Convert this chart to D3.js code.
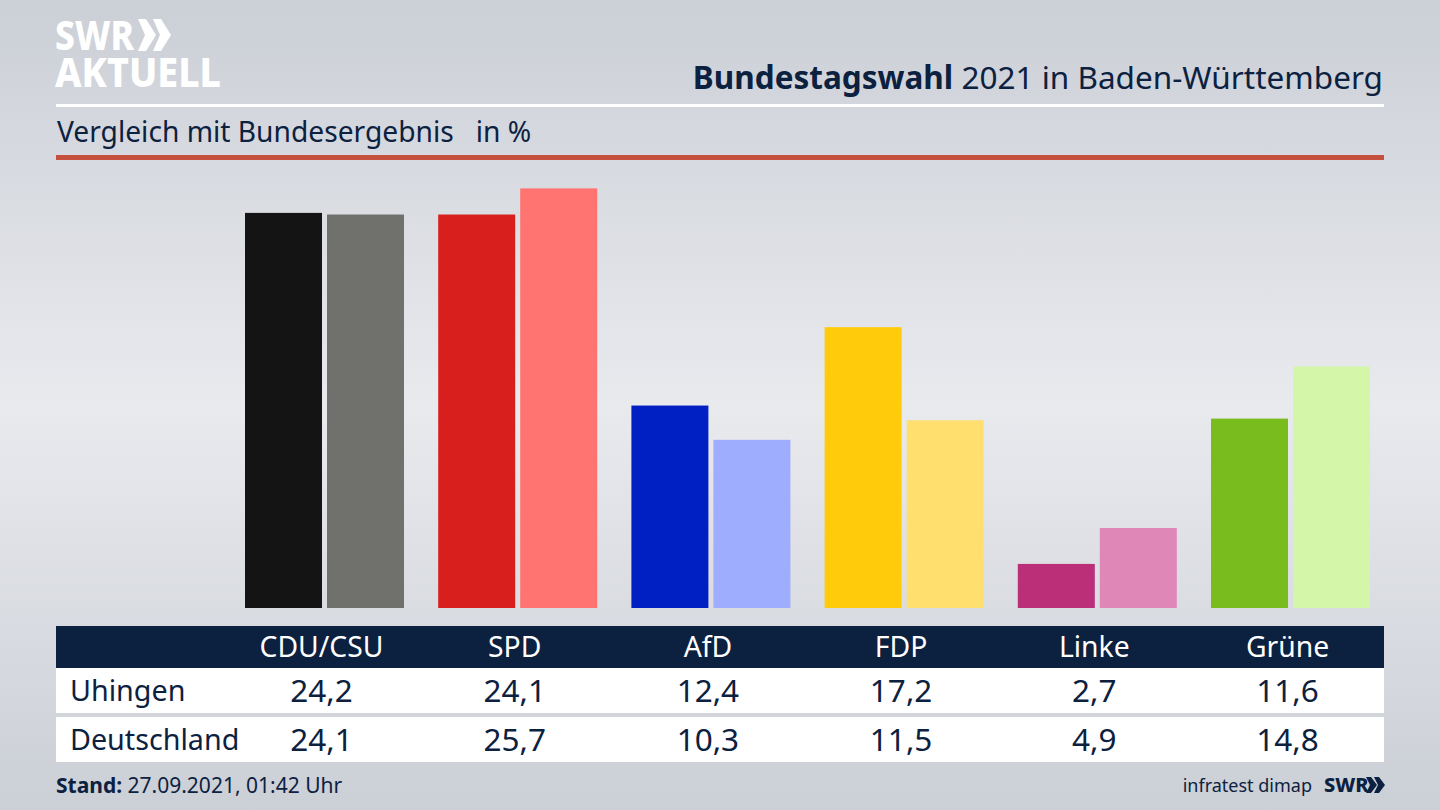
<!DOCTYPE html>
<html lang="de">
<head>
<meta charset="utf-8">
<title>Bundestagswahl 2021 in Baden-Württemberg</title>
<script src="https://d3js.org/d3.v7.min.js"></script>
<style>
html, body { margin: 0; padding: 0; background: #ccd0d7; overflow: hidden; }
svg { display: block; }
text { font-family: "Noto Sans", sans-serif; fill: #0c2140; }
</style>
</head>
<body>
<div id="chart"></div>
<script>
// data
const parties = ["CDU/CSU", "SPD", "AfD", "FDP", "Linke", "Grüne"];
const regions = ["Uhingen", "Deutschland"];
const uhingen = [24.2, 24.1, 12.4, 17.2, 2.7, 11.6];
const deutschland = [24.1, 25.7, 10.3, 11.5, 4.9, 14.8];
const strongColours = ["#141414", "#d81f1d", "#0020c4", "#ffcb0a", "#bb2e78", "#78bc1d"];
const paleColours = ["#70706d", "#ff7370", "#9fadff", "#ffdf6e", "#df87b6", "#d4f6a8"];

const width = 1440, height = 810;
const navy = "#0c2140";

const svg = d3.select("#chart").append("svg")
    .attr("width", width)
    .attr("height", height);

// background
const grad = svg.append("defs").append("linearGradient")
    .attr("id", "bg").attr("x1", 0).attr("x2", 0).attr("y1", 0).attr("y2", 1);
grad.append("stop").attr("offset", "0%").attr("stop-color", "#cbcfd6");
grad.append("stop").attr("offset", "50%").attr("stop-color", "#e9eaee");
grad.append("stop").attr("offset", "100%").attr("stop-color", "#cbcfd6");
svg.append("rect").attr("width", width).attr("height", height).attr("fill", "url(#bg)");

// scales
const x = d3.scaleBand().domain(parties).range([245, 1370]).paddingInner(0.177);
const inner = d3.scaleBand().domain(regions).range([0, x.bandwidth()]).paddingInner(0.061);
const y = d3.scaleLinear().domain([0, 25.7]).range([608, 188.4]);
const labelX = d => x(d) + inner.step() - 5.5;

// logo
const logo = svg.append("g");
logo.append("text").attr("x", 55).attr("y", 50).text("SWR")
    .style("fill", "#fff").style("font-size", "41px").style("font-weight", 800)
    .attr("textLength", 79).attr("lengthAdjust", "spacingAndGlyphs");
logo.selectAll("path").data([138, 153]).join("path")
    .attr("d", d => `M${d},19 h8 l10,16 l-10,16 h-8 l7,-16 z`)
    .attr("fill", "#fff");
logo.append("text").attr("x", 55).attr("y", 87).text("AKTUELL")
    .style("fill", "#fff").style("font-size", "41px").style("font-weight", 800)
    .attr("textLength", 166).attr("lengthAdjust", "spacingAndGlyphs");

// heading
const title = svg.append("text").attr("x", 1383).attr("y", 89)
    .attr("text-anchor", "end").style("font-size", "31.5px");
title.append("tspan").style("font-weight", 700).text("Bundestagswahl");
title.append("tspan").text(" 2021 in Baden-Württemberg");

svg.append("rect").attr("x", 56).attr("y", 104).attr("width", 1328).attr("height", 3).attr("fill", "#fff");

svg.append("text").attr("x", 57).attr("y", 142).style("font-size", "28.2px")
    .style("white-space", "pre")
    .text("Vergleich mit Bundesergebnis   in %");

svg.append("rect").attr("x", 56).attr("y", 155).attr("width", 1328).attr("height", 5).attr("fill", "#c5503d");

// bars
const drawBars = (values, region, colours) => {
    svg.append("g").selectAll("rect").data(parties).join("rect")
        .attr("x", d => x(d) + inner(region))
        .attr("y", (d, i) => y(values[i]))
        .attr("width", inner.bandwidth())
        .attr("height", (d, i) => y(0) - y(values[i]))
        .attr("fill", (d, i) => colours[i]);
};
drawBars(uhingen, "Uhingen", strongColours);
drawBars(deutschland, "Deutschland", paleColours);

// table
svg.append("rect").attr("x", 56).attr("y", 626).attr("width", 1328).attr("height", 42).attr("fill", navy);

const rows = [
    {name: regions[0], values: uhingen, top: 668, h: 45, base: 701},
    {name: regions[1], values: deutschland, top: 717, h: 45, base: 750}
];

rows.forEach(r => {
    svg.append("rect").attr("x", 56).attr("y", r.top).attr("width", 1328).attr("height", r.h).attr("fill", "#fff");
    svg.append("text").attr("x", 70).attr("y", r.base).style("font-size", "28.7px").text(r.name);
    svg.append("g").selectAll("text").data(parties).join("text")
        .attr("x", labelX)
        .attr("y", r.base + 1)
        .attr("text-anchor", "middle")
        .style("font-size", "31.5px")
        .text((d, i) => d3.format(".1f")(r.values[i]).replace(".", ","));
});

svg.append("g").selectAll("text").data(parties).join("text")
    .attr("x", labelX)
    .attr("y", 657)
    .attr("text-anchor", "middle")
    .style("font-size", "28.3px")
    .style("fill", "#fff")
    .text(d => d);

// footer
const stand = svg.append("text").attr("x", 56).attr("y", 793).style("font-size", "21px");
stand.append("tspan").style("font-weight", 700).text("Stand:");
stand.append("tspan").text(" 27.09.2021, 01:42 Uhr");

svg.append("text").attr("x", 1312).attr("y", 792).attr("text-anchor", "end")
    .style("font-size", "18px").text("infratest dimap");
svg.append("text").attr("x", 1324).attr("y", 792).style("font-size", "20px").style("font-weight", 800).text("SWR");
svg.append("g").selectAll("path").data([1366, 1374]).join("path")
    .attr("d", d => `M${d},777 h5 l6,8 l-6,8 h-5 l4,-8 z`)
    .attr("fill", navy);
</script>
</body>
</html>
